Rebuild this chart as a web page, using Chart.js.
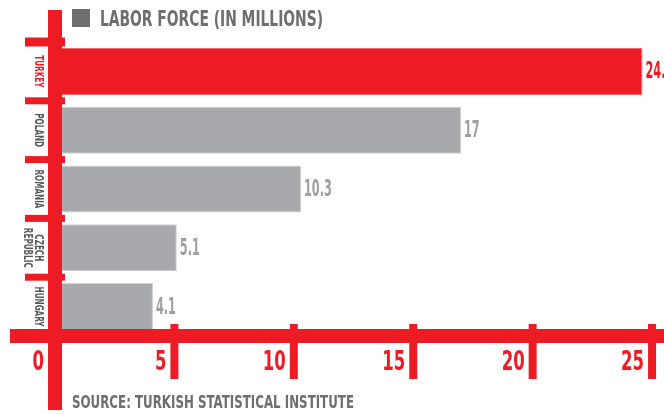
<!DOCTYPE html>
<html>
<head>
<meta charset="utf-8">
<script src="https://cdn.jsdelivr.net/npm/chart.js@4/dist/chart.umd.min.js"></script>
<style>
  html, body { margin: 0; padding: 0; background: #fff; }
  #wrap { width: 664px; height: 414px; position: relative; }
</style>
</head>
<body>
<div id="wrap"><canvas id="chart-labor"></canvas></div>
<script>
const categories = ["TURKEY", "POLAND", "ROMANIA", ["CZECH", "REPUBLIC"], "HUNGARY"];
const laborForce = [24.6, 17, 10.3, 5.1, 4.1];
const xTicks = [0, 5, 10, 15, 20, 25];
const titleText = "LABOR FORCE (IN MILLIONS)";
const sourceText = "SOURCE: TURKISH STATISTICAL INSTITUTE";

const RED = "#ed1c24";
const GREY = "#a7a9ac";
const DARK = "#6d6e71";
const FONT = '"Liberation Sans Narrow", "DejaVu Sans Condensed", "Liberation Sans", sans-serif';

// draw text squeezed horizontally by factor sx
function squeezed(ctx, text, x, y, sx, align) {
  ctx.save();
  ctx.translate(x, y);
  ctx.scale(sx, 1);
  ctx.textAlign = align || "left";
  ctx.fillText(text, 0, 0);
  ctx.restore();
}

function squeezeFor(ctx, font, sample, width) {
  ctx.font = font;
  return width / ctx.measureText(sample).width;
}

const decor = {
  id: "decor",
  afterDatasetsDraw(chart) {
    const { ctx, scales: { x, y }, chartArea } = chart;
    ctx.save();
    ctx.fillStyle = RED;

    // vertical axis
    ctx.fillRect(48, 10, 14, 400);
    // category separators
    const step = y.getPixelForValue(1) - y.getPixelForValue(0);
    categories.forEach((_, i) => {
      const yy = y.getPixelForValue(i) - step / 2;
      const h = i === 0 ? 9 : 7;
      ctx.fillRect(25, yy - h / 2, 40, h);
    });
    // horizontal axis
    ctx.fillRect(10, chartArea.bottom - 7, 654, 14);
    // tick marks + labels
    const tickFont = "bold 27px " + FONT;
    const tsx = squeezeFor(ctx, tickFont, "0", 11.5);
    ctx.font = tickFont;
    ctx.textBaseline = "alphabetic";
    xTicks.forEach(v => {
      const px = x.getPixelForValue(v);
      let right = px - 8;
      if (v !== 0) ctx.fillRect(px - 4, 324, 8, 55);
      else right = 44;
      squeezed(ctx, String(v), right, 370, tsx, "right");
    });

    // value labels
    const valFont = "bold 23px " + FONT;
    const vsx = squeezeFor(ctx, valFont, "4.1", 20);
    ctx.font = valFont;
    ctx.textBaseline = "middle";
    laborForce.forEach((v, i) => {
      const px = x.getPixelForValue(v);
      const py = y.getPixelForValue(i);
      ctx.fillStyle = i === 0 ? RED : "#9d9fa2";
      squeezed(ctx, String(v), px + 3, py + 1, vsx, "left");
    });

    // category labels (rotated)
    const catFont = "bold 12px " + FONT;
    const csx = squeezeFor(ctx, catFont, "HUNGARY", 40);
    ctx.font = catFont;
    ctx.textBaseline = "middle";
    categories.forEach((c, i) => {
      const py = y.getPixelForValue(i);
      const lines = Array.isArray(c) ? c : [c];
      ctx.fillStyle = i === 0 ? RED : "#58595b";
      lines.forEach((t, j) => {
        ctx.save();
        ctx.translate(38 - j * 11, py);
        ctx.rotate(Math.PI / 2);
        ctx.scale(csx, 1);
        ctx.textAlign = "center";
        ctx.fillText(t, 0, 0);
        ctx.restore();
      });
    });

    // title
    ctx.fillStyle = DARK;
    ctx.fillRect(72, 9, 18, 18);
    const titleFont = "bold 21px " + FONT;
    const ttsx = squeezeFor(ctx, titleFont, titleText, 223);
    ctx.font = titleFont;
    ctx.textBaseline = "alphabetic";
    squeezed(ctx, titleText, 100, 26, ttsx, "left");

    // source
    const srcFont = "bold 18px " + FONT;
    const ssx = squeezeFor(ctx, srcFont, sourceText, 282);
    ctx.font = srcFont;
    squeezed(ctx, sourceText, 72, 408, ssx, "left");

    ctx.restore();
  },
};

new Chart(document.getElementById("chart-labor"), {
  type: "bar",
  data: {
    labels: categories,
    datasets: [
      {
        label: titleText,
        data: laborForce,
        backgroundColor: laborForce.map((_, i) => (i === 0 ? RED : GREY)),
        borderColor: laborForce.map((_, i) => (i === 0 ? "#f26a70" : "#cfd0d2")),
        borderWidth: 1,
        borderSkipped: false,
        categoryPercentage: 0.8,
        barPercentage: 1,
      },
    ],
  },
  options: {
    indexAxis: "y",
    responsive: true,
    maintainAspectRatio: false,
    animation: false,
    layout: { padding: { left: 55, right: 0, top: 42, bottom: 78 } },
    plugins: { legend: { display: false }, tooltip: { enabled: false } },
    scales: {
      x: { type: "linear", min: 0, max: 25.5, display: false },
      y: { display: false },
    },
  },
  plugins: [decor],
});
</script>
</body>
</html>
